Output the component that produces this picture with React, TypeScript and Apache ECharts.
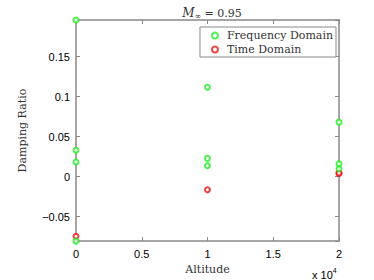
import React, { useEffect, useRef } from "react";
import * as echarts from "echarts";

const freqX = [0, 0, 0, 0, 10000, 10000, 10000, 20000, 20000, 20000];
const freqY = [0.1958, 0.033, 0.0184, -0.0806, 0.1117, 0.0228, 0.0136, 0.0681, 0.016, 0.0099];
const timeX = [0, 10000, 20000, 20000];
const timeY = [-0.0745, -0.0164, 0.0039, 0.0045];
const yMin = -0.0806;
const yMax = 0.1958;

const AXIS = "#888888";
const SERIF = "'DejaVu Serif', serif";
const SANS = "'Liberation Sans', Arial, sans-serif";

export default function App() {
  const ref = useRef<HTMLDivElement>(null);
  useEffect(() => {
    const chart = echarts.init(ref.current!, null, { renderer: "svg" });
    const pair = (xs: number[], ys: number[]) => xs.map((x, i) => [x, ys[i]]);
    const axisLine = { show: true, onZero: false, lineStyle: { color: AXIS, width: 1.5 } };
    const tick = { show: true, inside: true, length: 4, lineStyle: { color: AXIS, width: 1 } };
    const fmtY = (v: number) => {
      const r = Math.round(v * 100) / 100;
      return String(r).replace("-", "\u2212");
    };
    chart.setOption({
      animation: false,
      backgroundColor: "#ffffff",
      title: {
        text: "{m|M}{s|\u221e}{n| = 0.95}",
        left: 207,
        textAlign: "center",
        top: 1,
        textStyle: {
          fontWeight: "normal",
          rich: {
            m: { fontFamily: SERIF, fontStyle: "italic", fontWeight: "normal", fontSize: 12, color: "#333" },
            s: { fontFamily: SERIF, fontWeight: "normal", fontSize: 8, color: "#333", padding: [6, 0, 0, 0] },
            n: { fontFamily: SERIF, fontWeight: "normal", fontSize: 11, color: "#333" },
          },
        },
      },
      grid: { left: 76, right: 35, top: 20, bottom: 32 },
      legend: {
        orient: "vertical",
        right: 38,
        top: 27,
        backgroundColor: "#ffffff",
        borderColor: "#888888",
        borderWidth: 1,
        borderRadius: 0,
        padding: [3, 3, 2, 11],
        itemGap: 3,
        itemWidth: 6,
        itemHeight: 6,
        textStyle: { fontFamily: SERIF, fontSize: 11, color: "#333", padding: [0, 0, 0, 4] },
        data: [
          { name: "Frequency Domain", icon: "emptyCircle", itemStyle: { borderWidth: 1.5 } },
          { name: "Time Domain", icon: "emptyCircle", itemStyle: { borderWidth: 1.5 } },
        ],
      },
      xAxis: [
        {
          type: "value",
          min: 0,
          max: 20000,
          interval: 5000,
          axisLine,
          axisTick: tick,
          splitLine: { show: false },
          axisLabel: {
            fontFamily: SANS,
            fontSize: 11,
            color: "#000",
            margin: 7,
            formatter: (v: number) => String(v / 10000),
          },
          name: "Altitude",
          nameLocation: "middle",
          nameGap: 21,
          nameTextStyle: { fontFamily: SERIF, fontSize: 11, color: "#333" },
        },
        {
          type: "value",
          position: "top",
          min: 0,
          max: 20000,
          interval: 5000,
          axisLine,
          axisTick: tick,
          axisLabel: { show: false },
          splitLine: { show: false },
        },
      ],
      yAxis: [
        {
          type: "value",
          min: yMin,
          max: yMax,
          splitNumber: 5,
          axisLine,
          axisTick: tick,
          splitLine: { show: false },
          axisLabel: {
            fontFamily: SANS,
            fontSize: 11,
            color: "#000",
            margin: 6,
            showMinLabel: false,
            showMaxLabel: false,
            formatter: fmtY,
          },
          name: "Damping Ratio",
          nameLocation: "middle",
          nameGap: 48,
          nameTextStyle: { fontFamily: SERIF, fontSize: 11, color: "#333" },
        },
        {
          type: "value",
          position: "right",
          min: yMin,
          max: yMax,
          splitNumber: 5,
          axisLine,
          axisTick: tick,
          axisLabel: { show: false },
          splitLine: { show: false },
        },
      ],
      graphic: [
        {
          type: "text",
          left: 312,
          top: 267,
          style: {
            text: "x 10{sup|4}",
            fontFamily: SANS,
            fontSize: 11,
            fill: "#000",
            rich: { sup: { fontFamily: SANS, fontSize: 7, fill: "#000", padding: [0, 0, 8, 0] } },
          },
        },
      ],
      series: [
        {
          name: "Frequency Domain",
          type: "scatter",
          symbol: "emptyCircle",
          symbolSize: 5,
          itemStyle: { color: "#22ee22", borderColor: "#22ee22", borderWidth: 1.8 },
          data: pair(freqX, freqY),
          z: 3,
        },
        {
          name: "Time Domain",
          type: "scatter",
          symbol: "emptyCircle",
          symbolSize: 5,
          itemStyle: { color: "#ee1111", borderColor: "#ee1111", borderWidth: 1.8 },
          data: pair(timeX, timeY),
          z: 2,
        },
      ],
    });
    return () => chart.dispose();
  }, []);
  return <div ref={ref} style={{ width: 374, height: 280, position: "absolute", left: 0, top: 0 }} />;
}
